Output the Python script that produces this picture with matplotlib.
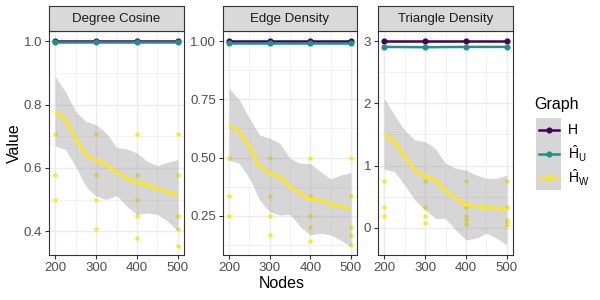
import numpy as np
import matplotlib.pyplot as plt
from matplotlib.ticker import FixedLocator
from matplotlib.patches import Rectangle

# 数据
nodes = [200, 300, 400, 500]
panels = ['Degree Cosine', 'Edge Density', 'Triangle Density']

# H 与 H_U（每个面板四个节点）
h_true = [[1.0, 1.0, 1.0, 1.0], [1.0, 1.0, 1.0, 1.0], [3.0, 3.0, 3.0, 3.0]]
h_u = [[0.997, 0.997, 0.997, 0.997], [0.991, 0.991, 0.991, 0.991], [2.91, 2.905, 2.91, 2.91]]

# H_W 散点（按节点）
w_deg = {200: [0.707, 0.577, 0.5],
         300: [0.707, 0.577, 0.5, 0.408],
         400: [0.707, 0.577, 0.5, 0.447, 0.378],
         500: [0.707, 0.577, 0.447, 0.408, 0.354]}
w_edge = {200: [0.5, 0.333, 0.25],
          300: [0.5, 0.333, 0.25, 0.167],
          400: [0.5, 0.333, 0.25, 0.2, 0.143],
          500: [0.5, 0.333, 0.2, 0.167, 0.125]}
w_tri = {200: [0.75, 0.333, 0.19],
         300: [0.75, 0.333, 0.19, 0.083],
         400: [0.75, 0.333, 0.19, 0.125, 0.067],
         500: [0.75, 0.333, 0.125, 0.094, 0.05]}
w_points = [w_deg, w_edge, w_tri]

# 平滑曲线及置信带
smooth_x = [200, 225, 250, 275, 300, 325, 350, 375, 400, 425, 450, 475, 500]
smooth_deg = [0.778, 0.752, 0.694, 0.642, 0.624, 0.610, 0.586, 0.568, 0.553, 0.547, 0.534, 0.523, 0.514]
upper_deg = [0.889, 0.841, 0.778, 0.747, 0.736, 0.710, 0.665, 0.660, 0.647, 0.621, 0.607, 0.618, 0.626]
lower_deg = [0.670, 0.658, 0.605, 0.542, 0.511, 0.500, 0.513, 0.479, 0.453, 0.458, 0.453, 0.432, 0.400]
smooth_edge = [0.640, 0.611, 0.547, 0.464, 0.432, 0.418, 0.375, 0.346, 0.320, 0.317, 0.300, 0.289, 0.279]
upper_edge = [0.798, 0.748, 0.669, 0.597, 0.583, 0.561, 0.497, 0.475, 0.475, 0.439, 0.408, 0.425, 0.435]
lower_edge = [0.489, 0.475, 0.411, 0.317, 0.267, 0.253, 0.256, 0.203, 0.167, 0.174, 0.167, 0.145, 0.117]
smooth_tri = [1.508, 1.385, 1.143, 0.929, 0.821, 0.768, 0.595, 0.473, 0.365, 0.338, 0.322, 0.312, 0.285]
upper_tri = [2.083, 1.814, 1.572, 1.412, 1.385, 1.278, 1.037, 0.956, 0.929, 0.848, 0.795, 0.795, 0.848]
lower_tri = [0.940, 0.902, 0.687, 0.446, 0.285, 0.151, 0.150, -0.037, -0.198, -0.171, -0.090, -0.171, -0.278]
smooths = [(smooth_deg, upper_deg, lower_deg),
           (smooth_edge, upper_edge, lower_edge),
           (smooth_tri, upper_tri, lower_tri)]

# 坐标轴刻度
y_ticks = [[0.4, 0.6, 0.8, 1.0], [0.25, 0.50, 0.75, 1.00], [0, 1, 2, 3]]
y_labels = [['0.4', '0.6', '0.8', '1.0'], ['0.25', '0.50', '0.75', '1.00'], ['0', '1', '2', '3']]
y_minor = [[0.3, 0.5, 0.7, 0.9], [0.125, 0.375, 0.625, 0.875], [-0.5, 0.5, 1.5, 2.5]]
y_lims = [(0.325, 1.032), (0.081, 1.044), (-0.44, 3.166)]

# 绘图
plt.rcParams['font.family'] = ['Liberation Sans', 'DejaVu Sans']
plt.rcParams['mathtext.fontset'] = 'custom'
plt.rcParams['mathtext.rm'] = 'Liberation Sans'
plt.rcParams['mathtext.it'] = 'Liberation Sans:italic'

c_h, c_u, c_w = '#440154', '#21908C', '#FDE725'
W, H = 600, 300
fig = plt.figure(figsize=(6, 3), dpi=100)

lefts = [49, 223, 378]
widths = [135, 134, 135]
top, bottom = 31, 255
for i in range(3):
    ax = fig.add_axes([lefts[i] / W, 1 - bottom / H, widths[i] / W, (bottom - top) / H])
    # 散点（在置信带下方）
    for n in nodes:
        vals = w_points[i][n]
        ax.scatter([n] * len(vals), vals, s=10, color=c_w, linewidths=0, zorder=2)
    sm, up, lo = smooths[i]
    ax.fill_between(smooth_x, lo, up, color='#999999', alpha=0.4, linewidth=0, zorder=3)
    ax.plot(smooth_x, sm, color=c_w, lw=2.2, zorder=4, solid_capstyle='butt')
    ax.plot(nodes, h_true[i], color=c_h, lw=1.8, marker='o', ms=3.4, zorder=5)
    ax.plot(nodes, h_u[i], color=c_u, lw=1.8, marker='o', ms=3.4, zorder=6)

    ax.set_xlim(185, 515)
    ax.set_ylim(*y_lims[i])
    ax.set_xticks(nodes)
    ax.set_xticklabels([str(n) for n in nodes])
    ax.xaxis.set_minor_locator(FixedLocator([250, 350, 450]))
    ax.set_yticks(y_ticks[i])
    ax.set_yticklabels(y_labels[i])
    ax.yaxis.set_minor_locator(FixedLocator(y_minor[i]))
    ax.grid(which='major', color='#EBEBEB', lw=1.0, zorder=0)
    ax.grid(which='minor', color='#EBEBEB', lw=0.5, zorder=0)
    ax.set_axisbelow(True)
    ax.tick_params(which='major', length=3, width=0.8, color='#333333',
                   labelsize=9.5, labelcolor='#4D4D4D', pad=2)
    ax.tick_params(which='minor', length=0)
    for s in ax.spines.values():
        s.set_color('#333333')
        s.set_linewidth(0.8)

    # 分面标题
    sax = fig.add_axes([lefts[i] / W, 1 - top / H, widths[i] / W, 25 / H])
    sax.set_facecolor('#D9D9D9')
    sax.set_xticks([])
    sax.set_yticks([])
    for s in sax.spines.values():
        s.set_color('#333333')
        s.set_linewidth(0.8)
    sax.text(0.5, 0.48, panels[i], ha='center', va='center', fontsize=9.5, color='#1A1A1A',
             transform=sax.transAxes)

fig.text(282 / W, 1 - 284 / H, 'Nodes', ha='center', va='center', fontsize=11.5)
fig.text(14 / W, 1 - 143 / H, 'Value', ha='center', va='center', fontsize=11.5, rotation=90)

# 图例
fig.text(534 / W, 1 - 104 / H, 'Graph', ha='left', va='center', fontsize=11.5)
lax = fig.add_axes([536 / W, 1 - 190 / H, 25 / W, 72 / H])
lax.set_xlim(0, 1)
lax.set_ylim(0, 3)
lax.axis('off')
lax.add_patch(Rectangle((0, 0), 1, 3, facecolor='#D6D6D6', edgecolor='none'))
key_colors = [c_h, c_u, c_w]
key_labels = [r'H', r'$\hat{\mathrm{H}}_{\mathrm{U}}$', r'$\hat{\mathrm{H}}_{\mathrm{W}}$']
for k in range(3):
    yk = 2.5 - k
    lax.plot([0.1, 0.9], [yk, yk], color=key_colors[k], lw=2.2 if k == 2 else 1.8)
    lax.plot([0.5], [yk], marker='o', ms=3.4, color=key_colors[k])
    fig.text(568 / W, 1 - (130 + 24 * k) / H, key_labels[k], ha='left', va='center',
             fontsize=10)

plt.savefig('out.png', dpi=100)
